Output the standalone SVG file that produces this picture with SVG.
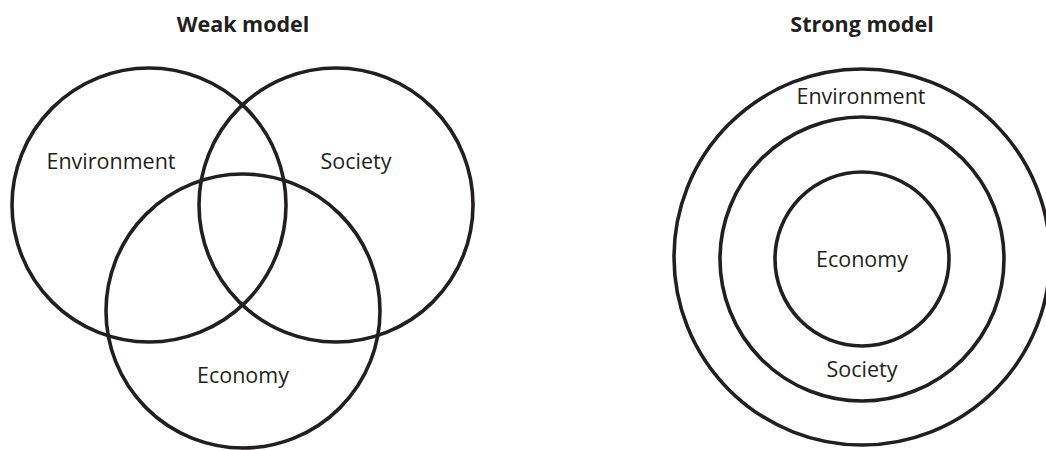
<svg xmlns="http://www.w3.org/2000/svg" width="1046" height="450" viewBox="0 0 1046 450">
<style>
.c{fill:none;stroke:#231f20;stroke-width:3.6}
.t{font-family:"Open Sans","Noto Sans",sans-serif;font-size:21.5px;fill:#231f20;text-anchor:middle}
.h{font-family:"Open Sans","Noto Sans",sans-serif;font-size:21.5px;font-weight:bold;fill:#231f20;text-anchor:middle}
</style>
<rect width="1046" height="450" fill="#ffffff"/>
<g id="weak">
<text class="h" x="243" y="32">Weak model</text>
<g id="weak-environment"><circle class="c" cx="149" cy="205" r="137"/><text class="t" x="111" y="169">Environment</text></g>
<g id="weak-society"><circle class="c" cx="336" cy="205" r="137"/><text class="t" x="356" y="169">Society</text></g>
<g id="weak-economy"><circle class="c" cx="243" cy="311" r="137"/><text class="t" x="243" y="383">Economy</text></g>
</g>
<g id="strong">
<text class="h" x="862" y="32">Strong model</text>
<g id="strong-environment"><circle class="c" cx="862" cy="257" r="188"/><text class="t" x="861" y="104">Environment</text></g>
<g id="strong-society"><circle class="c" cx="862" cy="259" r="142"/><text class="t" x="862" y="377">Society</text></g>
<g id="strong-economy"><circle class="c" cx="862" cy="259" r="87"/><text class="t" x="862" y="267">Economy</text></g>
</g>
<g id="connectors"/>
</svg>
